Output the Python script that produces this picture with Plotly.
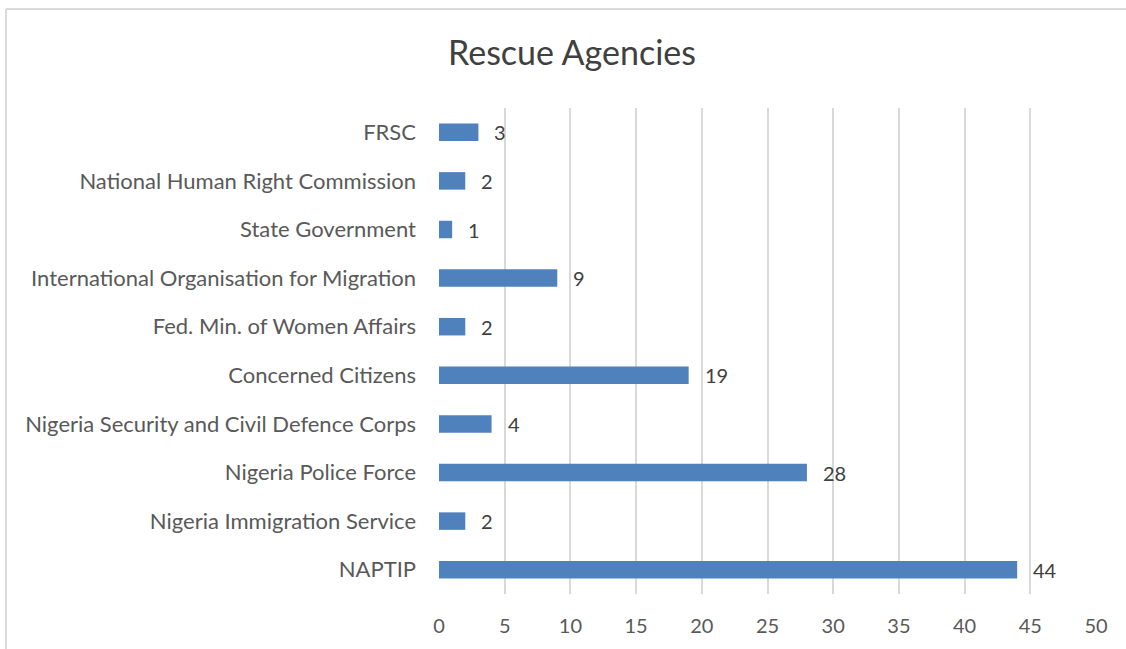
import plotly.graph_objects as go

categories = ["NAPTIP", "Nigeria Immigration Service", "Nigeria Police Force",
              "Nigeria Security and Civil Defence Corps", "Concerned Citizens",
              "Fed. Min. of Women Affairs", "International Organisation for Migration",
              "State Government", "National Human Right Commission", "FRSC"]
values = [44, 2, 28, 4, 19, 2, 9, 1, 2, 3]
x_ticks = [0, 5, 10, 15, 20, 25, 30, 35, 40, 45, 50]

W, H = 1126, 649
L, R, T, B = 439, 30, 108, 55
FONT = "Lato"

fig = go.Figure(go.Bar(
    x=values, y=categories, orientation="h",
    marker=dict(color="#4F81BD", line=dict(width=0)),
    width=0.36,
))

annotations = [dict(x=v, y=c, xref="x", yref="y", text=str(v), showarrow=False,
                    xanchor="left", yanchor="middle", xshift=14,
                    font=dict(family=FONT, size=20, color="#404040"))
               for c, v in zip(categories, values)]

pw, ph = W - L - R, H - T - B
px = lambda p: (p - L) / pw
py = lambda p: (H - B - p) / ph
shapes = [
    dict(type="line", xref="paper", yref="paper", x0=px(6), x1=px(W + 5), y0=py(9), y1=py(9),
         line=dict(color="#D9D9D9", width=2)),
    dict(type="line", xref="paper", yref="paper", x0=px(6), x1=px(6), y0=py(9), y1=py(H + 5),
         line=dict(color="#D9D9D9", width=2)),
]

fig.update_layout(
    width=W, height=H,
    margin=dict(l=L, r=R, t=T, b=B, autoexpand=False),
    paper_bgcolor="white", plot_bgcolor="white",
    title=dict(text="Rescue Agencies", x=572 / W, xanchor="center", y=1 - 53 / H, yanchor="middle",
               font=dict(family=FONT, size=34, color="#404040")),
    font=dict(family=FONT, size=20, color="#595959"),
    xaxis=dict(range=[0, 50], tickvals=x_ticks, showgrid=True, gridcolor="#D9D9D9", gridwidth=2,
               zeroline=False, showline=False, ticks="", ticklabelstandoff=18,
               tickfont=dict(family=FONT, size=20, color="#595959"), fixedrange=True),
    yaxis=dict(categoryorder="array", categoryarray=categories, showgrid=False, zeroline=False,
               showline=False, ticks="", ticklabelstandoff=22, fixedrange=True,
               tickfont=dict(family=FONT, size=22, color="#595959")),
    annotations=annotations, shapes=shapes, showlegend=False,
)

fig.write_html("out.html", config={"displayModeBar": False},
               post_script="document.body.style.margin='0';")
